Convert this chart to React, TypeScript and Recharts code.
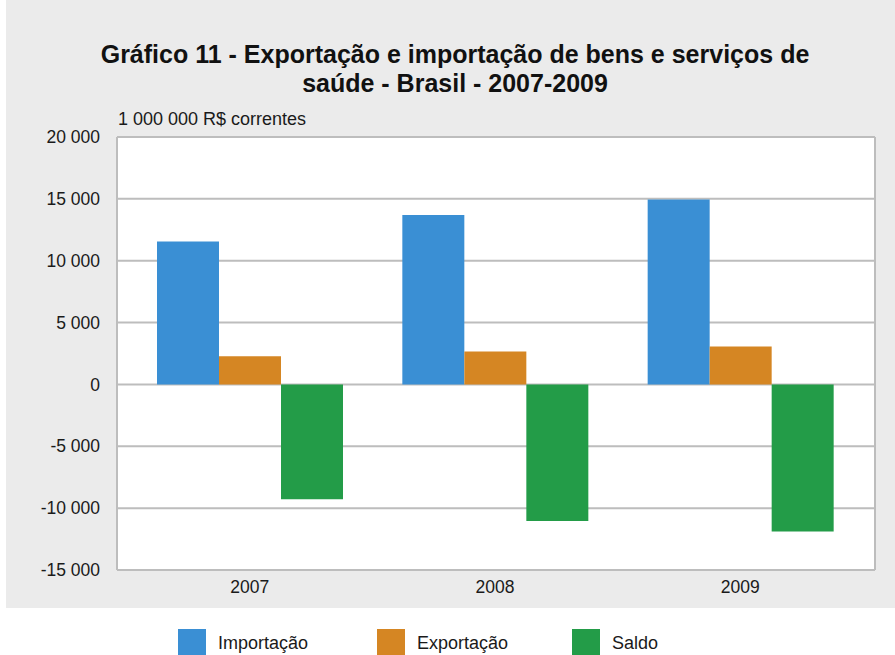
import React from 'react';
import { BarChart, Bar, XAxis, YAxis, CartesianGrid } from 'recharts';

const years = ['2007', '2008', '2009'];
const importacao = [11550, 13700, 14950];
const exportacao = [2270, 2670, 3070];
const saldo = [-9280, -11030, -11880];
const yTicks = [-15000, -10000, -5000, 0, 5000, 10000, 15000, 20000];
const seriesNames = ['Importação', 'Exportação', 'Saldo'];
const seriesColors = ['#3a8fd4', '#d58623', '#239c48'];

const data = years.map((y, i) => ({
  year: y,
  importacao: importacao[i],
  exportacao: exportacao[i],
  saldo: saldo[i],
}));

const FONT = '"Liberation Sans", Arial, Helvetica, sans-serif';

const fmt = (n: number) => {
  const s = Math.abs(n).toString().replace(/\B(?=(\d{3})+(?!\d))/g, ' ');
  return n < 0 ? '-' + s : s;
};

const LegendBlock = () => {
  const pos = [178, 377, 572];
  return (
    <div style={{ position: 'absolute', left: 0, top: 615, width: 895, height: 40 }}>
      {seriesNames.map((name, i) => (
        <div key={name} style={{ position: 'absolute', left: pos[i], top: 14, display: 'flex', alignItems: 'center' }}>
          <div style={{ width: 28, height: 28, background: seriesColors[i] }} />
          <span style={{ marginLeft: 12, fontFamily: FONT, fontSize: 18, color: '#1a1a1a', lineHeight: '28px' }}>{name}</span>
        </div>
      ))}
    </div>
  );
};

export default function App() {
  return (
    <div style={{ position: 'absolute', left: 0, top: 0, width: 895, height: 655, background: '#fff', overflow: 'hidden' }}>
      <div style={{ position: 'absolute', left: 6, top: 0, width: 889, height: 608, background: '#ebebeb' }} />
      <div style={{ position: 'absolute', left: 0, top: 40, width: 910, textAlign: 'center', fontFamily: FONT, fontWeight: 'bold', fontSize: 25, lineHeight: '29px', color: '#111' }}>
        Gráfico 11 - Exportação e importação de bens e serviços de<br />saúde - Brasil - 2007-2009
      </div>
      <div style={{ position: 'absolute', left: 118, top: 109, fontFamily: FONT, fontSize: 18, color: '#1a1a1a' }}>
        1 000 000 R$ correntes
      </div>
      <div style={{ position: 'absolute', left: 0, top: 0 }}>
        <BarChart
          width={895}
          height={655}
          data={data}
          margin={{ top: 137, right: 20, bottom: 55, left: 17 }}
          barGap={0}
          barSize={62}
        >
          <CartesianGrid
            fill="#ffffff"
            stroke="#bdbdbd"
            strokeWidth={2}
            verticalCoordinatesGenerator={({ offset }: any) => [offset.left, offset.left + offset.width]}
          />
          <XAxis
            dataKey="year"
            axisLine={false}
            tickLine={false}
            tickSize={0}
            tickMargin={11}
            height={30}
            padding={{ left: 10, right: 12 }}
            tick={{ fontFamily: FONT, fontSize: 17.5, fill: '#1a1a1a' }}
          />
          <YAxis
            domain={[-15000, 20000]}
            ticks={yTicks}
            interval={0}
            axisLine={false}
            tickLine={false}
            tickSize={0}
            tickMargin={17}
            width={100}
            tickFormatter={fmt}
            tick={{ fontFamily: FONT, fontSize: 17.5, fill: '#1a1a1a' }}
          />
          <Bar dataKey="importacao" name={seriesNames[0]} fill={seriesColors[0]} isAnimationActive={false} />
          <Bar dataKey="exportacao" name={seriesNames[1]} fill={seriesColors[1]} isAnimationActive={false} />
          <Bar dataKey="saldo" name={seriesNames[2]} fill={seriesColors[2]} isAnimationActive={false} />
        </BarChart>
      </div>
      <LegendBlock />
    </div>
  );
}
